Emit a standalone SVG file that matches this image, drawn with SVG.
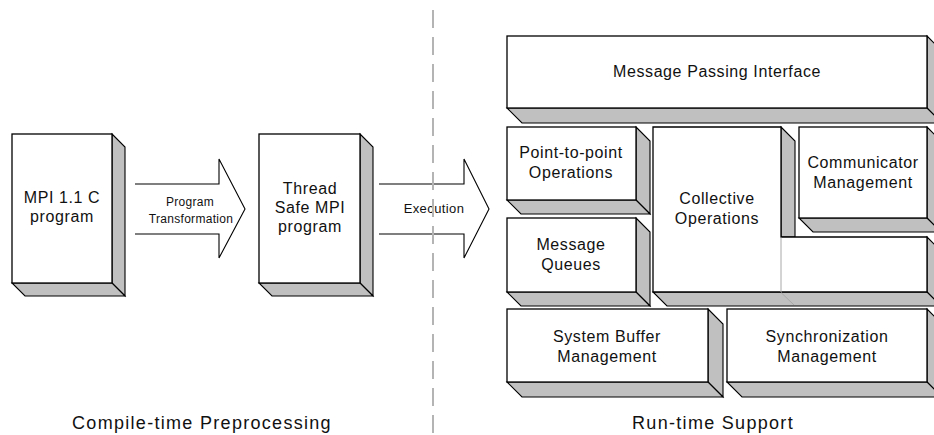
<svg xmlns="http://www.w3.org/2000/svg" width="934" height="435" viewBox="0 0 934 435">
  <style>
    .face { fill: #ffffff; stroke: #000000; stroke-width: 1.3; stroke-linejoin: miter; }
    .side { fill: #c0c0c0; stroke: #000000; stroke-width: 1.1; stroke-linejoin: miter; }
    .seam { fill: none; stroke: #a8a8a8; stroke-width: 1; }
    .lbl { font-family: "Liberation Sans", Arial, sans-serif; font-size: 16px; letter-spacing: 0.6px; fill: #111111; text-anchor: middle; }
    .small { font-family: "Liberation Sans", Arial, sans-serif; font-size: 12px; letter-spacing: 0.3px; fill: #111111; text-anchor: middle; }
    .exec { font-size: 13px; letter-spacing: 0.4px; }
    .caption { font-family: "Liberation Sans", Arial, sans-serif; font-size: 18px; letter-spacing: 1.3px; fill: #111111; text-anchor: middle; }
    .arrow { fill: #ffffff; stroke: #000000; stroke-width: 1.1; }
    .divider { stroke: #b4b4b4; stroke-width: 2; stroke-dasharray: 18 9; fill: none; }
  </style>

  <!-- Compile-time side -->
  <g id="mpi-c-program">
    <polygon class="side" points="112,134 125,147 125,296 112,283"/>
    <polygon class="side" points="12,283 112,283 125,296 25,296"/>
    <rect class="face" x="12" y="134" width="100" height="149"/>
    <text class="lbl" x="62" y="203">MPI 1.1 C</text>
    <text class="lbl" x="62" y="222">program</text>
  </g>

  <g id="thread-safe-program">
    <polygon class="side" points="360,134 373,147 373,296 360,283"/>
    <polygon class="side" points="259,283 360,283 373,296 272,296"/>
    <rect class="face" x="259" y="134" width="101" height="149"/>
    <text class="lbl" x="310" y="194">Thread</text>
    <text class="lbl" x="310" y="213">Safe MPI</text>
    <text class="lbl" x="310" y="232">program</text>
  </g>

  <!-- Run-time support stack -->
  <g id="message-passing-interface">
    <polygon class="side" points="927,36 942,51 942,123 927,108"/>
    <polygon class="side" points="507,108 927,108 942,123 522,123"/>
    <rect class="face" x="507" y="36" width="420" height="72"/>
    <text class="lbl" x="717" y="77">Message Passing Interface</text>
  </g>

  <g id="point-to-point">
    <polygon class="side" points="636,127 650,141 650,214 636,200"/>
    <polygon class="side" points="507,200 636,200 650,214 521,214"/>
    <rect class="face" x="507" y="127" width="129" height="73"/>
    <text class="lbl" x="571" y="158">Point-to-point</text>
    <text class="lbl" x="571" y="178">Operations</text>
  </g>

  <g id="message-queues">
    <polygon class="side" points="636,218 650,232 650,306 636,292"/>
    <polygon class="side" points="507,292 636,292 650,306 521,306"/>
    <rect class="face" x="507" y="218" width="129" height="74"/>
    <text class="lbl" x="571" y="250">Message</text>
    <text class="lbl" x="571" y="270">Queues</text>
  </g>

  <g id="communicator-management">
    <polygon class="side" points="927,127 941,141 941,232 927,218"/>
    <polygon class="side" points="799,218 927,218 941,232 813,232"/>
    <rect class="face" x="799" y="127" width="128" height="91"/>
    <text class="lbl" x="863" y="168">Communicator</text>
    <text class="lbl" x="863" y="188">Management</text>
  </g>

  <g id="collective-operations">
    <polygon class="side" points="781,127 795,141 795,237 781,237"/>
    <polygon class="side" points="927,237 941,251 941,306 927,292"/>
    <polygon class="side" points="653,292 927,292 941,306 667,306"/>
    <polygon class="face" points="653,127 781,127 781,237 927,237 927,292 653,292"/>
    <line class="seam" x1="781" y1="237.5" x2="781" y2="292"/>
    <line class="seam" x1="781" y1="292.5" x2="794" y2="305"/>
    <text class="lbl" x="717" y="204">Collective</text>
    <text class="lbl" x="717" y="224">Operations</text>
  </g>

  <g id="system-buffer-management">
    <polygon class="side" points="708,309 723,324 723,397 708,382"/>
    <polygon class="side" points="507,382 708,382 723,397 522,397"/>
    <rect class="face" x="507" y="309" width="201" height="73"/>
    <text class="lbl" x="607" y="342">System Buffer</text>
    <text class="lbl" x="607" y="362">Management</text>
  </g>

  <g id="synchronization-management">
    <polygon class="side" points="927,309 942,324 942,397 927,382"/>
    <polygon class="side" points="727,382 927,382 942,397 742,397"/>
    <rect class="face" x="727" y="309" width="200" height="73"/>
    <text class="lbl" x="827" y="342">Synchronization</text>
    <text class="lbl" x="827" y="362">Management</text>
  </g>

  <!-- Flow arrows -->
  <g id="connectors">
    <g id="transformation-arrow">
      <path class="arrow" d="M135,184 H219 V159 L245,209 L219,258 V234 H135"/>
      <text class="small" x="190" y="206">Program</text>
      <text class="small" x="191" y="223">Transformation</text>
    </g>
    <g id="execution-arrow">
      <path class="arrow" d="M379,184 H464 V159 L489,209 L464,258 V234 H379"/>
      <text class="small exec" x="434" y="213">Execution</text>
    </g>
  </g>

  <!-- Phase divider and captions -->
  <line class="divider" x1="433" y1="10" x2="433" y2="435"/>
  <text class="caption" x="202" y="429">Compile-time Preprocessing</text>
  <text class="caption" x="713" y="429">Run-time Support</text>
</svg>
